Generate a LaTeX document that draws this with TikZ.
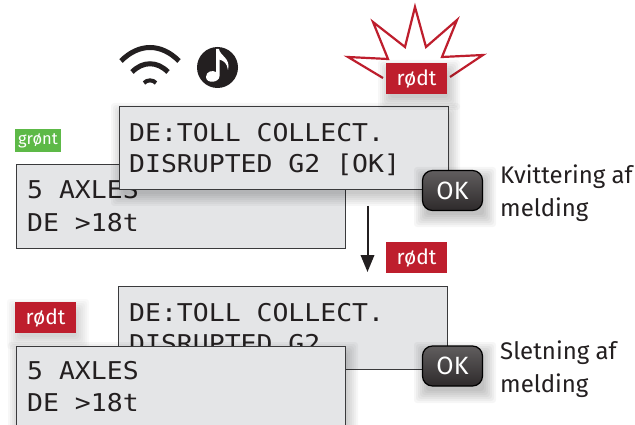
\documentclass[tikz,border=0pt]{standalone}
\usepackage{fontspec}
\setmainfont{Fira Sans}
\newfontfamily\lcdfont[FakeStretch=1.08]{DejaVu Sans Mono}
\usetikzlibrary{arrows.meta}
\definecolor{lcdgray}{HTML}{E4E5E7}
\definecolor{lcdedge}{HTML}{3A3A3C}
\definecolor{tagred}{HTML}{BE1E2D}
\definecolor{taggreen}{HTML}{5DB947}
\definecolor{inkblack}{HTML}{231F20}
\newcommand{\softshadow}[5]{%
  \foreach \g in {11,9,...,-1}{
    \fill[black,opacity=#5,rounded corners=3pt]
      ({#1-\g+3},{#2-\g+8}) rectangle ({#3+\g+2},{#4+\g+5});
  }}
\tikzset{
  x=1pt,y=-1pt,
  lcdbox/.style={draw=lcdedge,line width=1pt,fill=lcdgray,minimum width=329pt,minimum height=83pt,inner sep=0pt,anchor=north west},
  lcdtext/.style={font=\lcdfont\fontsize{24.5}{26}\selectfont,text=inkblack,anchor=base west,inner sep=0pt},
  tagbox/.style={text=white,font=\fontsize{21}{22}\selectfont,inner sep=0pt,minimum height=31pt,minimum width=61pt,fill=tagred},
  okbtn/.style={draw=black,line width=1.2pt,rounded corners=10pt,top color=inkblack!72,bottom color=inkblack!95,text=white,font=\fontsize{25}{25}\selectfont,minimum width=60pt,minimum height=40pt,inner sep=0pt},
  sidetext/.style={font=\fontsize{24}{33}\selectfont,text=inkblack,anchor=base west,inner sep=0pt},
  arrowline/.style={draw=inkblack,line width=2pt,-{Triangle[length=17pt,width=13.5pt]}},
  wave/.style={draw=inkblack,line width=5pt,line cap=butt},
}
\begin{document}
\begin{tikzpicture}
\useasboundingbox (0,0) rectangle (635,425);
\fill[white] (0,0) rectangle (635,425);
% icons
\draw[wave] (121,61) .. controls (139,43) and (161,43) .. (179,61);
\draw[wave] (132,72) .. controls (143,61) and (157,61) .. (168,72);
\draw[wave,line width=4pt] (144,83) .. controls (147,79.5) and (153,79.5) .. (156,83);
\fill[inkblack] (217.5,67.5) circle (20.5);
\fill[white] (216,49) -- (219,49) .. controls (220,56) and (231,58) .. (228,70)
  .. controls (227,63) and (224,61) .. (219.5,59.5) -- (219.5,76)
  .. controls (219.5,83) and (206,84) .. (206,77) .. controls (206,71) and (213,70) .. (216,72) -- cycle;
% star
\draw[tagred,line width=2.2pt,line join=miter,fill=white]
  (383,78) -- (348,57) -- (388,59) -- (373,22) -- (405,47) -- (415,7)
  -- (426,47) -- (457,20) -- (442,57) -- (483,55) -- (450,77);
% first pair
\node[lcdbox] (lcdB) at (16,164.5) {};
\node[lcdtext] (lcdBa) at (27,199) {5 AXLES};
\node[lcdtext] (lcdBb) at (27,231) {DE >18t};
\softshadow{119}{106}{447}{190}{0.03}
\node[lcdbox] (lcdA) at (119,106.5) {};
\node[lcdtext] (lcdAa) at (129,142) {DE:TOLL COLLECT.};
\node[lcdtext] (lcdAb) at (129,173) {DISRUPTED G2 [OK]};
\softshadow{422}{170}{483}{211}{0.035}
\node[okbtn] (okA) at (452.5,190.5) {OK};
\softshadow{386}{63}{447}{94}{0.03}
\node[tagbox] (tagA) at (416.5,78.5) {rødt};
\node[tagbox,fill=taggreen,minimum width=46pt,minimum height=23pt,font=\fontsize{16.5}{18}\selectfont] (tagG) at (38,140.5) {grønt};
\node[sidetext] (kvA) at (500,183) {Kvittering af};
\node[sidetext] (kvB) at (500,216) {melding};
% arrow
\coordinate (arrowTop) at (367.5,206);
\coordinate (arrowEnd) at (367.5,272);
\draw[arrowline] (arrowTop) -- (arrowEnd);
\node[tagbox] (tagB) at (416.5,257.5) {rødt};
% second pair
\node[lcdbox] (lcdC) at (118,285.5) {};
\node[lcdtext] (lcdCa) at (129,321) {DE:TOLL COLLECT.};
\node[lcdtext] (lcdCb) at (129,352) {DISRUPTED G2};
\softshadow{15}{302}{76}{333}{0.025}
\node[tagbox] (tagC) at (45.5,317.5) {rødt};
\softshadow{16}{345}{345}{440}{0.03}
\node[lcdbox,minimum height=95pt] (lcdD) at (16,345.5) {};
\node[lcdtext] (lcdDa) at (27,379.5) {5 AXLES};
\node[lcdtext] (lcdDb) at (27,411.5) {DE >18t};
\softshadow{422}{345}{483}{387}{0.035}
\node[okbtn] (okB) at (452.5,366) {OK};
\node[sidetext] (slA) at (500,359) {Sletning af};
\node[sidetext] (slB) at (500,392) {melding};
\end{tikzpicture}
\end{document}
